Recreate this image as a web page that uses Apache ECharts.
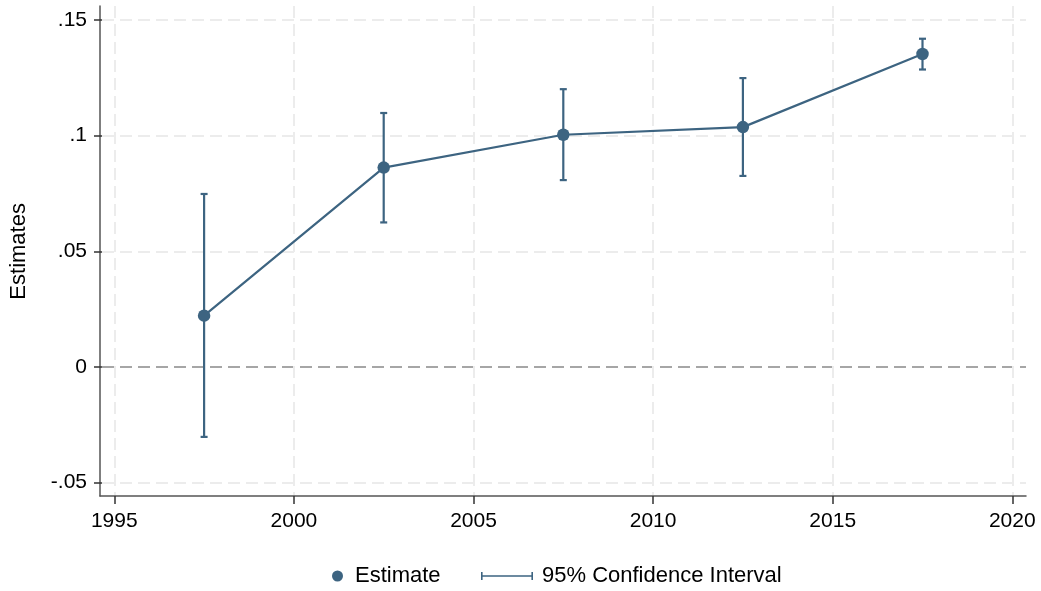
<!DOCTYPE html>
<html>
<head>
<meta charset="utf-8">
<title>Estimates</title>
<script src="https://cdn.jsdelivr.net/npm/echarts@6/dist/echarts.min.js"></script>
<style>
  html, body { margin: 0; padding: 0; background: #fff; }
  #chart { width: 1041px; height: 591px; }
</style>
</head>
<body>
<div id="chart"></div>
<script>
// Period midpoints and point estimates with 95% confidence bounds
const years = [1997.5, 2002.5, 2007.5, 2012.5, 2017.5];
const estimates = [0.0222, 0.0862, 0.1004, 0.1037, 0.1353];
const ciLower = [-0.0302, 0.0625, 0.0808, 0.0826, 0.1286];
const ciUpper = [0.0748, 0.1098, 0.1201, 0.1249, 0.1419];

const xTicks = { min: 1995, max: 2020, step: 5 };
const yTicks = { min: -0.05, max: 0.15, step: 0.05 };

const MAIN = '#3d6481';
const FONT = '"Liberation Sans", Arial, Helvetica, sans-serif';

function fmtY(v) {
  if (Math.abs(v) < 1e-9) return '0';
  let s = String(+v.toFixed(2));
  return s.replace(/^(-?)0\./, '$1.');
}

const chart = echarts.init(document.getElementById('chart'), null, { renderer: 'canvas' });

const hidden = { show: false };
const dummyAxis = (gi) => ({
  gridIndex: gi, type: 'value', min: 0, max: 1,
  axisLine: hidden, axisTick: hidden, axisLabel: hidden, splitLine: hidden
});

chart.setOption({
  animation: false,
  backgroundColor: '#ffffff',
  textStyle: { fontFamily: FONT },
  grid: [
    // 0: frame for the axis lines
    { left: 100, right: 15, top: 6, bottom: 95 },
    // 1: vertical grid lines and year ticks
    { left: 114.3, right: 28.7, top: 6, bottom: 95 },
    // 2: horizontal grid lines and value ticks
    { left: 100, right: 15, top: 20, bottom: 108.3 },
    // 3: plotting area for the data
    { left: 114.3, right: 28.7, top: 20, bottom: 108.3 }
  ],
  xAxis: [
    {
      gridIndex: 0, type: 'value', min: 0, max: 1,
      axisLine: { show: true, onZero: false, lineStyle: { color: '#555', width: 1.5 } },
      axisTick: hidden, axisLabel: hidden, splitLine: hidden
    },
    {
      gridIndex: 1, type: 'value', min: xTicks.min, max: xTicks.max, interval: xTicks.step,
      axisLine: { show: false },
      axisTick: { show: true, length: 8, lineStyle: { color: '#333', width: 1.5 } },
      axisLabel: {
        show: true, margin: 15, color: '#000', fontSize: 21, fontFamily: FONT,
        formatter: (v) => String(Math.round(v))
      },
      splitLine: { show: true, lineStyle: { color: '#ececec', width: 2, type: [12, 6] } }
    },
    dummyAxis(2),
    {
      gridIndex: 3, type: 'value', min: xTicks.min, max: xTicks.max,
      axisLine: hidden, axisTick: hidden, axisLabel: hidden, splitLine: hidden
    }
  ],
  yAxis: [
    {
      gridIndex: 0, type: 'value', min: 0, max: 1,
      axisLine: { show: true, onZero: false, lineStyle: { color: '#555', width: 1.5 } },
      axisTick: hidden, axisLabel: hidden, splitLine: hidden
    },
    dummyAxis(1),
    {
      gridIndex: 2, type: 'value', min: yTicks.min, max: yTicks.max, interval: yTicks.step,
      name: 'Estimates', nameLocation: 'middle', nameRotate: 90, nameGap: 72,
      nameTextStyle: { color: '#000', fontSize: 22, fontFamily: FONT },
      axisLine: { show: false },
      axisTick: { show: true, length: 8, lineStyle: { color: '#333', width: 1.5 } },
      axisLabel: { show: true, margin: 15, color: '#000', fontSize: 21, fontFamily: FONT, formatter: fmtY },
      splitLine: {
        show: true,
        lineStyle: {
          // order follows the ticks: -.05, 0, .05, .1, .15 (zero line darker)
          color: ['#ececec', '#a6a6a6', '#ececec', '#ececec', '#ececec'],
          width: 2, type: [12, 6]
        }
      }
    },
    {
      gridIndex: 3, type: 'value', min: yTicks.min, max: yTicks.max,
      axisLine: hidden, axisTick: hidden, axisLabel: hidden, splitLine: hidden
    }
  ],
  legend: [
    {
      left: 327, top: 560, itemWidth: 11, itemHeight: 11,
      textStyle: { color: '#000', fontSize: 22, fontFamily: FONT, padding: [0, 0, 0, 7] },
      data: [{ name: 'Estimate', icon: 'circle' }],
      selectedMode: false
    },
    {
      left: 476, top: 560, itemWidth: 52, itemHeight: 8,
      textStyle: { color: '#000', fontSize: 22, fontFamily: FONT, padding: [0, 0, 0, 4] },
      data: [{
        name: '95% Confidence Interval',
        icon: 'path://M0,0 L1.6,0 L1.6,3.2 L50.4,3.2 L50.4,0 L52,0 L52,8 L50.4,8 L50.4,4.8 L1.6,4.8 L1.6,8 L0,8 Z'
      }],
      selectedMode: false
    }
  ],
  series: [
    {
      name: '95% Confidence Interval',
      type: 'custom',
      xAxisIndex: 3, yAxisIndex: 3,
      itemStyle: { color: MAIN },
      data: years.map((y, i) => [y, ciLower[i], ciUpper[i]]),
      encode: { x: 0, y: [1, 2] },
      renderItem: function (params, api) {
        const lo = api.coord([api.value(0), api.value(1)]);
        const hi = api.coord([api.value(0), api.value(2)]);
        const cap = 3.5;
        const style = { stroke: MAIN, lineWidth: 2.2, fill: null };
        return {
          type: 'group',
          children: [
            { type: 'line', shape: { x1: lo[0], y1: lo[1], x2: hi[0], y2: hi[1] }, style },
            { type: 'line', shape: { x1: hi[0] - cap, y1: hi[1], x2: hi[0] + cap, y2: hi[1] }, style },
            { type: 'line', shape: { x1: lo[0] - cap, y1: lo[1], x2: lo[0] + cap, y2: lo[1] }, style }
          ]
        };
      },
      z: 2
    },
    {
      name: 'Estimate',
      type: 'line',
      xAxisIndex: 3, yAxisIndex: 3,
      data: years.map((y, i) => [y, estimates[i]]),
      symbol: 'circle', symbolSize: 12.5, showSymbol: true,
      lineStyle: { color: MAIN, width: 2.2 },
      itemStyle: { color: MAIN },
      z: 3
    }
  ]
});
</script>
</body>
</html>
